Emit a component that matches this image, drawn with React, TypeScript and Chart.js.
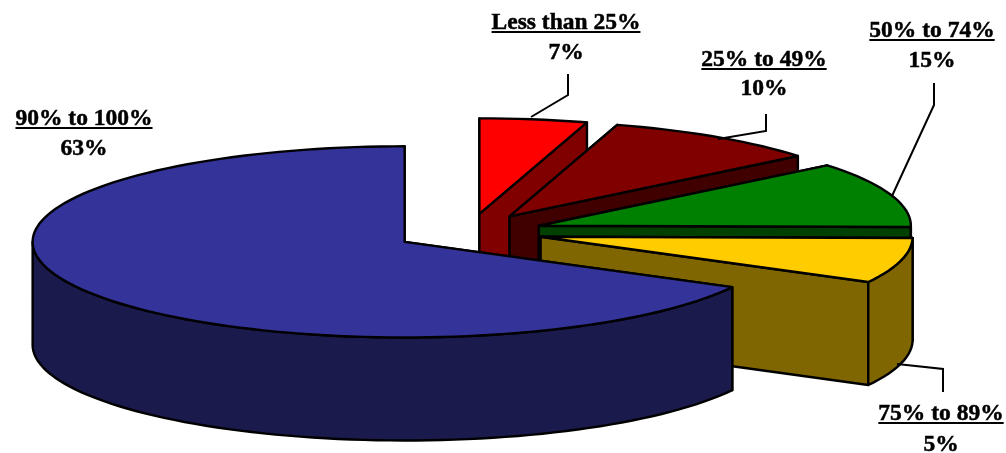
import React, { useEffect, useRef } from "react";
import { Chart, registerables } from "chart.js";

Chart.register(...registerables);

const categories = ["Less than 25%", "25% to 49%", "50% to 74%", "75% to 89%", "90% to 100%"];
const values = [7, 10, 15, 5, 63];
const topColors = ["#ff0000", "#800000", "#008000", "#ffcc00", "#333399"];
const wallColors = ["#800000", "#400000", "#004000", "#806600", "#1a1a4d"];

// The 3-D view foreshortens each slice by a different amount: screen sweep = library sweep * factor.
const foreshorten = [0.667, 0.944, 0.74, 1.528, 1.0657];
const explode = [71, 73, 74, 74, 75];
const tilt = 0.257;
const depth = 103;

// Label anchors: [centre x, first baseline, second baseline]
const labelAnchors = [
  [566, 29, 59],
  [764, 66, 95],
  [932, 37, 67],
  [941, 420, 451],
  [84, 125, 155],
];
const leaders = [
  [[568, 74], [568, 95], [531, 117]],
  [[766, 114], [766, 131], [718, 139]],
  [[934, 83], [934, 105], [892, 196]],
  [[943, 392], [943, 369], [897, 364]],
  [],
];

const pie3d = {
  id: "pie3d",
  beforeDatasetDraw(chart: any) {
    const ctx = chart.ctx;
    const arcs = chart.getDatasetMeta(0).data;
    const total = arcs.reduce((s: number, a: any, i: number) => s + a.circumference * foreshorten[i], 0);
    let phi = 0;
    ctx.save();
    ctx.lineJoin = "round";
    ctx.lineCap = "round";
    ctx.strokeStyle = "#000";
    ctx.lineWidth = 2.4;
    arcs.forEach((arc: any, i: number) => {
      const sweep = ((arc.circumference * foreshorten[i]) / total) * Math.PI * 2;
      const a0 = phi;
      const a1 = phi + sweep;
      phi = a1;
      const R = arc.outerRadius;
      const off = arc.options.offset;
      const mid = (a0 + a1) / 2;
      const cx = arc.x + Math.sin(mid) * off;
      const cy = arc.y - Math.cos(mid) * off * tilt;
      const pt = (a: number, dz = 0): [number, number] => [
        cx + Math.sin(a) * R,
        cy - Math.cos(a) * R * tilt + dz,
      ];
      const poly = (pts: [number, number][], fill: string) => {
        ctx.beginPath();
        pts.forEach((p, k) => (k ? ctx.lineTo(p[0], p[1]) : ctx.moveTo(p[0], p[1])));
        ctx.closePath();
        ctx.fillStyle = fill;
        ctx.fill();
        ctx.stroke();
      };
      const wall = wallColors[i];
      const edge = (a: number) => {
        const p = pt(a);
        const q = pt(a, depth);
        poly([[cx, cy], p, q, [cx, cy + depth]], wall);
      };
      edge(a0);
      edge(a1);
      // curved outer wall on the side that faces the viewer
      const from = Math.max(a0, Math.PI / 2);
      const to = Math.min(a1, (3 * Math.PI) / 2);
      const step = Math.PI / 90;
      if (to > from) {
        const upper: [number, number][] = [];
        const lower: [number, number][] = [];
        for (let a = from; a < to; a += step) {
          upper.push(pt(a));
          lower.push(pt(a, depth));
        }
        upper.push(pt(to));
        lower.push(pt(to, depth));
        poly([...upper, ...lower.reverse()], wall);
      }
      const rim: [number, number][] = [[cx, cy]];
      for (let a = a0; a < a1; a += step) rim.push(pt(a));
      rim.push(pt(a1));
      poly(rim, arc.options.backgroundColor);
    });
    ctx.restore();
    return false;
  },
  afterDatasetsDraw(chart: any) {
    const ctx = chart.ctx;
    const data = chart.data;
    ctx.save();
    ctx.strokeStyle = "#000";
    ctx.lineWidth = 2;
    ctx.lineJoin = "miter";
    leaders.forEach((line) => {
      if (!line.length) return;
      ctx.beginPath();
      line.forEach((p, k) => (k ? ctx.lineTo(p[0], p[1]) : ctx.moveTo(p[0], p[1])));
      ctx.stroke();
    });
    ctx.fillStyle = "#000";
    ctx.lineWidth = 0.5;
    ctx.font = 'bold 23.5px "Liberation Serif"';
    ctx.textAlign = "center";
    ctx.textBaseline = "alphabetic";
    data.labels.forEach((label: string, i: number) => {
      const [x, y1, y2] = labelAnchors[i];
      const value = `${data.datasets[0].data[i]}%`;
      ctx.fillText(label, x, y1);
      ctx.strokeText(label, x, y1);
      const w = ctx.measureText(label).width;
      ctx.fillRect(x - w / 2, y1 + 2, w, 2);
      ctx.fillText(value, x, y2);
      ctx.strokeText(value, x, y2);
    });
    ctx.restore();
  },
};

export default function App() {
  const ref = useRef<HTMLCanvasElement>(null);
  useEffect(() => {
    const chart = new Chart(ref.current as HTMLCanvasElement, {
      type: "pie",
      data: {
        labels: categories,
        datasets: [
          {
            data: values,
            backgroundColor: topColors,
            offset: explode,
            borderWidth: 0,
          },
        ],
      },
      options: {
        responsive: false,
        animation: false,
        devicePixelRatio: 1,
        radius: 372,
        layout: { padding: { right: 68, top: 11 } },
        plugins: { legend: { display: false }, tooltip: { enabled: false } },
      } as any,
      plugins: [pie3d],
    });
    return () => chart.destroy();
  }, []);
  return (
    <div style={{ position: "fixed", left: 0, top: 0, width: 1006, height: 453, background: "#fff" }}>
      <canvas ref={ref} width={1006} height={453} style={{ display: "block" }} />
    </div>
  );
}
